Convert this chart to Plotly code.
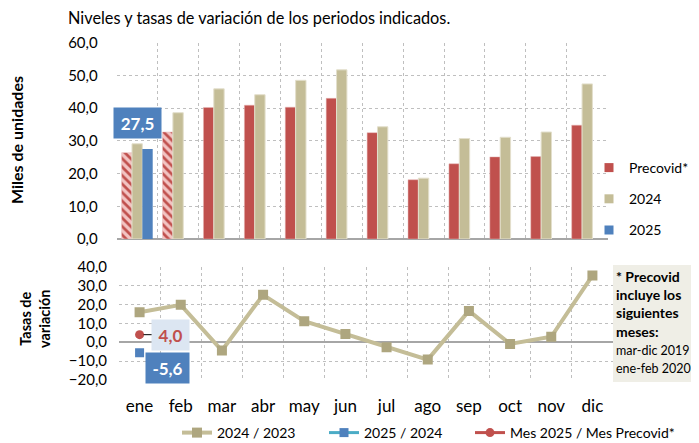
import plotly.graph_objects as go

# ---------------- data ----------------
months = ["ene", "feb", "mar", "abr", "may", "jun", "jul", "ago", "sep", "oct", "nov", "dic"]
precovid = [26.4, 32.7, 40.2, 40.9, 40.3, 43.0, 32.5, 18.1, 23.0, 25.1, 25.2, 34.8]
y2024 = [29.1, 38.6, 45.9, 44.1, 48.5, 51.7, 34.3, 18.6, 30.7, 31.1, 32.7, 47.4]
months_2025 = ["ene"]
y2025 = [27.5]
var_24_23 = [15.9, 19.8, -4.4, 25.1, 11.1, 4.4, -2.6, -9.2, 16.6, -0.9, 2.9, 35.3]
var_25_24 = [-5.6]
var_25_pre = [4.0]
hatched_months = ["ene", "feb"]

# page body has an 8px margin: figure is drawn at (8, 8) in the window
OFF = 8
W, H = 699 - OFF, 443 - OFF
FONT = "Lato"
RED, BEIGE, BLUE, TEAL = "#c0504d", "#c4bd97", "#4f81bd", "#4bacc6"
GRID = "#bfbfbf"


def fx(px):
    return (px - OFF) / W


def fy(py):
    return 1 - (py - OFF) / H


def fmt(v):
    return f"{v:.1f}".replace(".", ",")


fig = go.Figure()

# ---------------- bars (top panel) ----------------
fig.add_trace(go.Bar(
    x=months, y=precovid, name="Precovid*", showlegend=False,
    marker=dict(color=RED, line=dict(color="#e6b9b8", width=0.5),
                pattern=dict(shape=["\\" if m in hatched_months else "" for m in months],
                             fillmode="replace", fgcolor=RED, bgcolor="#f2c4c3",
                             size=6, solidity=0.45)),
    xaxis="x", yaxis="y"))
fig.add_trace(go.Bar(
    x=months, y=y2024, name="2024", showlegend=False,
    marker=dict(color=BEIGE, line=dict(color="#e3dfcc", width=1)),
    xaxis="x", yaxis="y"))
fig.add_trace(go.Bar(
    x=months_2025, y=y2025, name="2025", showlegend=False,
    marker=dict(color=BLUE, line=dict(width=0)),
    xaxis="x", yaxis="y"))

# legend entries for top panel
for nm, col, grp in [("Precovid*", RED, "a"), ("2024", BEIGE, "b"), ("2025", BLUE, "c")]:
    fig.add_trace(go.Scatter(x=[None], y=[None], mode="markers", name=nm,
                             marker=dict(symbol="square", size=9, color=col),
                             legend="legend", legendgroup=grp,
                             xaxis="x", yaxis="y"))

# ---------------- lines (bottom panel) ----------------
fig.add_trace(go.Scatter(
    x=months, y=var_24_23, name="2024 / 2023", mode="lines+markers",
    line=dict(color=BEIGE, width=4),
    marker=dict(symbol="square", size=10, color="#aea67f"),
    legend="legend2", xaxis="x2", yaxis="y2"))
fig.add_trace(go.Scatter(
    x=months_2025, y=var_25_24, name="2025 / 2024", mode="lines+markers",
    line=dict(color=TEAL, width=3),
    marker=dict(symbol="square", size=9, color=BLUE),
    legend="legend2", xaxis="x2", yaxis="y2"))
fig.add_trace(go.Scatter(
    x=months_2025, y=var_25_pre, name="Mes 2025 / Mes Precovid*", mode="lines+markers",
    line=dict(color=RED, width=3),
    marker=dict(symbol="circle", size=9, color=RED),
    legend="legend3", xaxis="x2", yaxis="y2"))

# ---------------- data labels ----------------
fig.add_annotation(x=months_2025[0], y=y2025[0], xref="x", yref="y",
                   text=f"<b>{fmt(y2025[0])}</b>", showarrow=False,
                   xanchor="center", yanchor="bottom", yshift=10, xshift=0,
                   font=dict(family=FONT, size=17, color="white"),
                   bgcolor=BLUE, width=39, height=22, borderpad=4)
fig.add_annotation(x=months_2025[0], y=var_25_pre[0], xref="x2", yref="y2",
                   text=f"<b>{fmt(var_25_pre[0])}</b>", showarrow=True,
                   arrowhead=0, arrowwidth=1, arrowcolor="black",
                   ax=31, ay=0, standoff=4,
                   font=dict(family=FONT, size=17, color=RED),
                   bgcolor="#dce6f2", width=29, height=22, borderpad=4)
fig.add_annotation(x=months_2025[0], y=var_25_24[0], xref="x2", yref="y2",
                   text=f"<b>{fmt(var_25_24[0])}</b>", showarrow=False,
                   xanchor="center", yanchor="middle", xshift=28, yshift=-15,
                   font=dict(family=FONT, size=17, color="white"),
                   bgcolor=BLUE, width=35, height=22, borderpad=4)

# ---------------- texts ----------------
fig.add_annotation(x=fx(259), y=fy(17), xref="paper", yref="paper",
                   xanchor="center", yanchor="middle",
                   text="Niveles y tasas de variación de los periodos indicados.",
                   showarrow=False, font=dict(family=FONT, size=16.3, color="black"))
fig.add_annotation(x=fx(17), y=fy(140), xref="paper", yref="paper",
                   xanchor="center", yanchor="middle",
                   text="<b>Miles de unidades</b>", textangle=-90, showarrow=False,
                   font=dict(family=FONT, size=16, color="black"))
fig.add_annotation(x=fx(35), y=fy(319), xref="paper", yref="paper",
                   xanchor="center", yanchor="middle",
                   text="<b>Tasas de<br>variación</b>", textangle=-90, showarrow=False,
                   font=dict(family=FONT, size=14.5, color="black"))

fig.add_shape(type="rect", xref="paper", yref="paper",
              x0=fx(613), x1=1.0, y0=fy(382), y1=fy(265),
              fillcolor="#efeee6", line=dict(width=0), layer="below")
fig.add_annotation(x=fx(614), y=fy(266), xref="paper", yref="paper",
                   xanchor="left", yanchor="top", align="left",
                   text=("<b>* Precovid<br>incluye los<br>siguientes<br>meses:</b><br>"
                         "<span style='font-size:12.5px'>mar-dic 2019</span><br>"
                         "<span style='font-size:12.5px'>ene-feb 2020</span>"),
                   showarrow=False, font=dict(family=FONT, size=14, color="black"))

axis_common = dict(showgrid=True, gridcolor=GRID, griddash="dot", gridwidth=1,
                   showline=False, ticks="")

leg_common = dict(font=dict(family=FONT, size=14), bgcolor="rgba(0,0,0,0)", itemwidth=30)

fig.update_layout(
    width=W, height=H, margin=dict(l=0, r=0, t=0, b=0, autoexpand=False),
    paper_bgcolor="white", plot_bgcolor="white",
    separators=",.",
    barmode="group", bargap=0.24, bargroupgap=0,
    font=dict(family=FONT, color="black"),
    xaxis=dict(domain=[fx(116.7), fx(607.7)], anchor="y", type="category",
               categoryorder="array", categoryarray=months, range=[-0.5, 11.5],
               tickson="boundaries", showticklabels=False, zeroline=False,
               **axis_common),
    yaxis=dict(domain=[fy(239), fy(42.7)], anchor="x", range=[0, 60], dtick=10,
               tickformat=".1f", zeroline=True, zerolinecolor="#a6a6a6", zerolinewidth=1.5,
               tickfont=dict(family=FONT, size=15), ticklabelstandoff=18,
               **axis_common),
    xaxis2=dict(domain=[fx(119), fx(613)], anchor="y2", type="category",
                categoryorder="array", categoryarray=months, range=[-0.5, 11.5],
                tickson="boundaries", zeroline=False, tickangle=0,
                tickfont=dict(family=FONT, size=17), ticklabelstandoff=14,
                **axis_common),
    yaxis2=dict(domain=[fy(380), fy(266.7)], anchor="x2", range=[-20, 40], dtick=10,
                tickformat=".1f", zeroline=True, zerolinecolor="#a6a6a6", zerolinewidth=1.5,
                tickfont=dict(family=FONT, size=15), ticklabelstandoff=11,
                **axis_common),
    legend=dict(x=fx(589), y=fy(152), xanchor="left", yanchor="top",
                orientation="v", tracegroupgap=10, traceorder="grouped", **leg_common),
    legend2=dict(x=fx(177), y=fy(433), xanchor="left", yanchor="middle",
                 orientation="h", entrywidth=102, entrywidthmode="pixels", **leg_common),
    legend3=dict(x=fx(470), y=fy(433), xanchor="left", yanchor="middle",
                 orientation="h", **leg_common),
)

fig.write_html("out.html")
